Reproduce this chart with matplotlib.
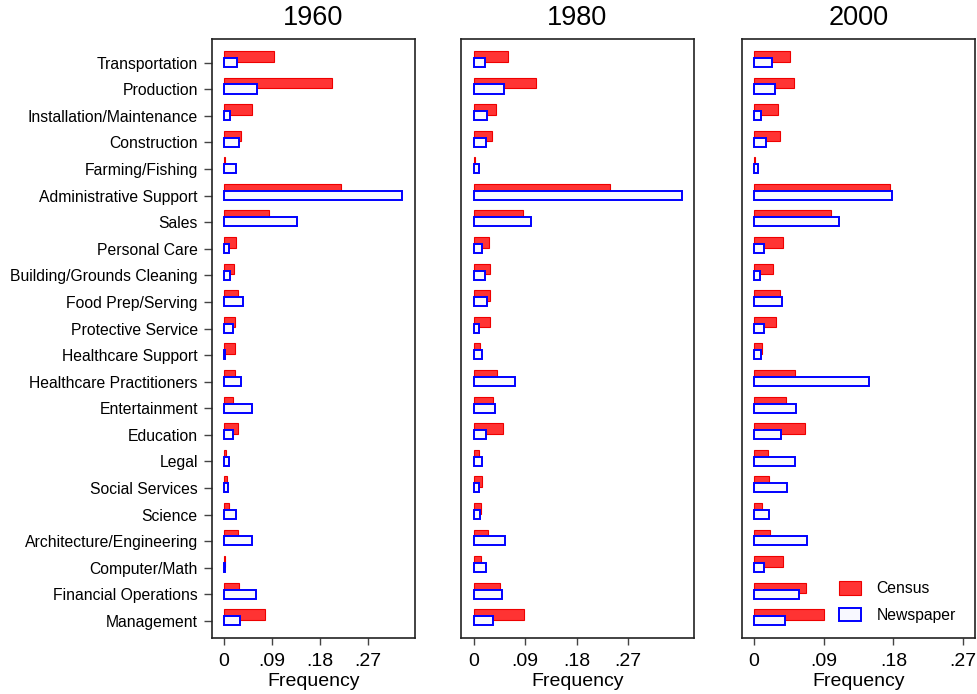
import numpy as np
import matplotlib
matplotlib.use("Agg")
import matplotlib.pyplot as plt
from matplotlib.patches import Patch

# ==============================================================================
# 数据
# ==============================================================================
occupations = [
    "Transportation", "Production", "Installation/Maintenance", "Construction",
    "Farming/Fishing", "Administrative Support", "Sales", "Personal Care",
    "Building/Grounds Cleaning", "Food Prep/Serving", "Protective Service",
    "Healthcare Support", "Healthcare Practitioners", "Entertainment", "Education",
    "Legal", "Social Services", "Science", "Architecture/Engineering",
    "Computer/Math", "Financial Operations", "Management",
]

years = ["1960", "1980", "2000"]

census_1960 = [0.093, 0.202, 0.052, 0.031, 0.001, 0.219, 0.085, 0.022, 0.018, 0.026, 0.020,
               0.020, 0.020, 0.0175, 0.026, 0.003, 0.005, 0.009, 0.026, 0.001, 0.0275, 0.076]
news_1960 = [0.024, 0.061, 0.011, 0.029, 0.022, 0.334, 0.1375, 0.009, 0.011, 0.036, 0.0175,
             0.002, 0.032, 0.053, 0.017, 0.009, 0.008, 0.022, 0.053, 0.0025, 0.060, 0.030]

census_1980 = [0.060, 0.108, 0.038, 0.032, 0.002, 0.239, 0.0865, 0.026, 0.029, 0.029, 0.0275,
               0.010, 0.040, 0.033, 0.051, 0.008, 0.0146, 0.012, 0.024, 0.012, 0.0456, 0.087]
news_1980 = [0.020, 0.053, 0.023, 0.021, 0.009, 0.365, 0.100, 0.0135, 0.020, 0.023, 0.009,
             0.0146, 0.0725, 0.037, 0.0216, 0.014, 0.009, 0.011, 0.055, 0.022, 0.049, 0.034]

census_2000 = [0.047, 0.051, 0.031, 0.034, 0.001, 0.175, 0.100, 0.037, 0.025, 0.033, 0.029,
               0.010, 0.0525, 0.041, 0.0655, 0.0177, 0.019, 0.010, 0.020, 0.038, 0.067, 0.091]
news_2000 = [0.023, 0.0276, 0.0095, 0.016, 0.0047, 0.178, 0.110, 0.013, 0.008, 0.036, 0.013,
             0.009, 0.149, 0.0547, 0.035, 0.053, 0.043, 0.019, 0.069, 0.0134, 0.0586, 0.0405]

x_ticks = [0, 0.09, 0.18, 0.27]
x_tick_labels = ["0", ".09", ".18", ".27"]

# ==============================================================================
# 画图
# ==============================================================================
plt.rcParams['font.family'] = ['Liberation Sans', 'DejaVu Sans']

fig = plt.figure(figsize=(9.77, 6.94), dpi=100)

# panel boxes in figure fractions: [left, bottom, width, height]
boxes = [
    [0.2167, 0.0807, 0.2081, 0.8631],
    [0.4718, 0.0807, 0.2385, 0.8631],
    [0.7595, 0.0807, 0.2385, 0.8631],
]
xlims = [(-0.023, 0.358), (-0.0228, 0.386), (-0.0155, 0.2855)]
census_all = [census_1960, census_1980, census_2000]
news_all = [news_1960, news_1980, news_2000]

n = len(occupations)
y = np.arange(n)[::-1]  # Transportation on top

red_fill = '#ff3333'
blue_edge = '#0000ff'

for i, ax_box in enumerate(boxes):
    ax = fig.add_axes(ax_box)
    ax.barh(y + 0.24, census_all[i], height=0.40, left=0, color=red_fill,
            edgecolor='#ee0000', linewidth=0.8, zorder=2)
    ax.barh(y + 0.01, news_all[i], height=0.34, left=0, color='#f8f8ff',
            edgecolor=blue_edge, linewidth=1.4, zorder=3)

    ax.set_xlim(*xlims[i])
    ax.set_ylim(-0.64, 21.89)
    ax.set_xticks(x_ticks)
    ax.set_xticklabels(x_tick_labels, fontsize=14)
    ax.tick_params(axis='x', length=5, width=1.0, color='#444444', pad=6)
    ax.set_xlabel('Frequency', fontsize=14, labelpad=2)
    ax.set_title(years[i], fontsize=19.5, pad=10)

    if i == 0:
        ax.set_yticks(y)
        ax.set_yticklabels(occupations, fontsize=11.3)
        ax.tick_params(axis='y', length=6, width=1.0, color='#444444', pad=4)
    else:
        ax.set_yticks([])

    for sp in ax.spines.values():
        sp.set_color('#222222')
        sp.set_linewidth(1.2)

    if i == 2:
        handles = [Patch(facecolor=red_fill, edgecolor='#ee0000', linewidth=0.8),
                   Patch(facecolor='#f8f8ff', edgecolor=blue_edge, linewidth=1.4)]
        ax.legend(handles, ['Census', 'Newspaper'], loc='upper left',
                  bbox_to_anchor=(839 / 977, 1 - 581 / 694), bbox_transform=fig.transFigure,
                  frameon=False, fontsize=11.3, handlelength=1.4, handleheight=0.95,
                  handletextpad=1.0, labelspacing=0.75, borderpad=0, borderaxespad=0)

plt.savefig('out.png', dpi=100)
